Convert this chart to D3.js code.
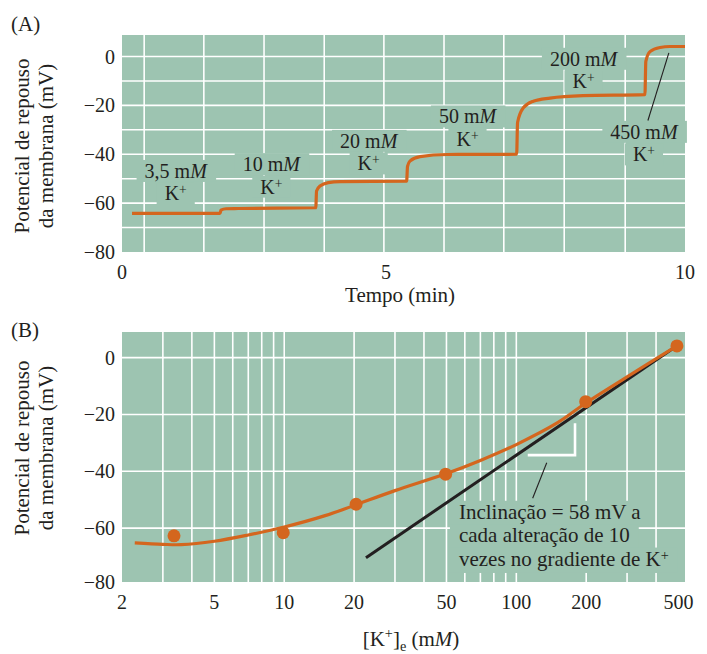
<!DOCTYPE html>
<html><head><meta charset="utf-8">
<script src="https://cdn.jsdelivr.net/npm/d3@7"></script>
<style>
body{margin:0;background:#fff}
text{font-family:"Liberation Serif","Times New Roman",serif;fill:#231f20}
</style>
</head><body>
<svg id="c" width="707" height="654"></svg>
<script>
// ---------- Panel A data: membrane potential trace over time ----------
const traceTime = [0.19,1.855,1.875,1.97,2.2,3.67,3.685,3.75,3.907,4.13,5.345,5.36,5.40,5.57,6.02,7.185,7.2,7.296,7.463,7.742,8.294,9.33,9.345,9.415,9.582,9.749,10];
const traceMv   = [-64.2,-64.2,-62.9,-62.3,-62.2,-61.9,-55,-53,-51.6,-51.2,-51.0,-45,-42.8,-41.0,-40.1,-40.0,-27,-21,-18.3,-17,-16,-15.6,-2,2,3.7,4.1,4.1];
const stepConc  = ["3,5","10","20","50","200","450"];
const timeTicks = [0,5,10];
const mvTicksA  = [0,-20,-40,-60,-80];
const gridMvA   = [0,-10,-20,-30,-40,-50,-60,-70];
const gridTimeA = [0.42,1.55,2.69,3.83,4.96,5.97,6.97,7.98,9.0];

// ---------- Panel B data: resting potential vs external K+ ----------
const kPoints   = [3.35,9.9,20.4,49.6,199,492];
const mvPoints  = [-62.7,-61.6,-51.6,-41.0,-15.5,4.1];
const fitK      = [2.27,3,3.6,5,7,10,15,20,30,50,70,100,150,200,300,490];
const fitMv     = [-65.2,-65.7,-65.8,-64.6,-62.4,-59.6,-55.6,-52.0,-46.8,-40.8,-36.2,-30.6,-23.0,-15.9,-6.8,4.0];
const nernstK   = [22.5,474.6];
const nernstMv  = [-70.4,3.3];
const kTicks    = [2,5,10,20,50,100,200,500];
const mvTicksB  = [0,-20,-40,-60,-80];
const gridMvB   = [0,-20,-40,-60];
const gridKB    = [3,4,5,6,7,8,9,10,20,30,40,50,60,70,80,90,100,200,300,400];

// ---------- styles / layout ----------
const BG = "#9dc4b1", ORANGE = "#d4661e", GRID = "#ffffff", INK = "#231f20";
const FS = 21, TFS = 20, LFS = 20;
const A = {l:122, r:685, t:35, b:252};
const B = {l:122, r:685, t:332, b:582};

const svg = d3.select("#c");

// multi-line rich text in ONE <text>; lines = [[ [str, kind], ... ], ...]
function richLines(g, x, y, lines, anchor, lh, size, supShift){
  size = size || FS; supShift = supShift || 8;
  const t = g.append("text").attr("x", x).attr("y", y)
    .attr("text-anchor", anchor || "start").attr("font-size", size);
  let cur = 0;
  const out = [];
  lines.forEach((parts, li) => {
    const base = li * lh;
    const nodes = [];
    parts.forEach(([s, k], pi) => {
      const sp = t.append("tspan").text(s);
      let target = base;
      if (k === "sup") { target = base - supShift; sp.attr("font-size", size*0.68); }
      if (k === "sub") { target = base + 5; sp.attr("font-size", size*0.68); }
      if (k === "i") sp.attr("font-style", "italic");
      if (pi === 0 && li > 0) sp.attr("x", x);
      if (target !== cur) { sp.attr("dy", target - cur); cur = target; }
      nodes.push(sp.node());
    });
    out.push(nodes);
  });
  return {text: t, lines: out};
}
function lineBox(nodes){
  let x0=Infinity,y0=Infinity,x1=-Infinity,y1=-Infinity;
  nodes.forEach(n => { const b = n.getBBox();
    x0=Math.min(x0,b.x); y0=Math.min(y0,b.y); x1=Math.max(x1,b.x+b.width); y1=Math.max(y1,b.y+b.height); });
  return {x:x0,y:y0,w:x1-x0,h:y1-y0};
}
const minus = v => v < 0 ? "\u2212" + Math.abs(v) : String(v);

// =================== PANEL A ===================
const xA = d3.scaleLinear().domain([0,5,10]).range([A.l, 386, A.r]);
const yA = d3.scaleLinear().domain([-80, 8.8]).range([A.b, A.t]);
const gA = svg.append("g");
gA.append("rect").attr("x",A.l).attr("y",A.t).attr("width",A.r-A.l).attr("height",A.b-A.t).attr("fill",BG);
gA.selectAll(".hg").data(gridMvA).join("line")
  .attr("x1",A.l).attr("x2",A.r).attr("y1",d=>yA(d)).attr("y2",d=>yA(d))
  .attr("stroke",GRID).attr("stroke-width",1.6);
gA.selectAll(".vg").data(gridTimeA).join("line")
  .attr("x1",d=>xA(d)).attr("x2",d=>xA(d)).attr("y1",A.t).attr("y2",A.b)
  .attr("stroke",GRID).attr("stroke-width",1.6);

// step labels (anchor: centre time, baseline mV of first line)
const labelAnchorA = [[1.017,-49.7],[2.828,-46.9],[4.672,-37.4],[6.363,-27.4],[8.303,-3.8],[9.314,-33.7]];
const labBg = gA.append("g"), labTx = gA.append("g");
stepConc.forEach((c,i) => {
  const [t,v] = labelAnchorA[i];
  const r = richLines(labTx, xA(t), yA(v), [[[c+" m","n"],["M","i"]], [["K","n"],["+","sup"]]], "middle", 22.5, LFS, 6);
  r.lines.forEach(nodes => {
    const b = lineBox(nodes);
    labBg.append("rect").attr("x",b.x-8).attr("y",b.y).attr("width",b.w+16).attr("height",b.h).attr("fill",BG);
  });
});
// leader for 450 mM
gA.append("line").attr("x1",xA(9.73)).attr("y1",yA(1.5)).attr("x2",xA(9.38)).attr("y2",yA(-26.2))
  .attr("stroke",INK).attr("stroke-width",1.1);

const lineA = d3.line().x((d,i)=>xA(traceTime[i])).y(d=>yA(d)).curve(d3.curveMonotoneX);
gA.append("path").attr("d", lineA(traceMv)).attr("fill","none")
  .attr("stroke",ORANGE).attr("stroke-width",3.2).attr("stroke-linejoin","round");

// axes text
gA.selectAll(".yt").data(mvTicksA).join("text")
  .attr("x",A.l-7).attr("y",d=>yA(d)+7).attr("text-anchor","end").attr("font-size",TFS).text(minus);
gA.selectAll(".xt").data(timeTicks).join("text")
  .attr("x",d=>xA(d)).attr("y",A.b+27).attr("text-anchor","middle").attr("font-size",TFS).text(d=>d);
gA.append("text").attr("x",400).attr("y",302).attr("text-anchor","middle").attr("font-size",FS).text("Tempo (min)");
gA.append("text").attr("transform","translate(29,146) rotate(-90)").attr("text-anchor","middle").attr("font-size",FS)
  .call(t => { t.append("tspan").attr("x",0).text("Potencial de repouso");
               t.append("tspan").attr("x",0).attr("dy",23.5).text("da membrana (mV)"); });
gA.append("text").attr("x",11).attr("y",31).attr("font-size",FS).text("(A)");

// =================== PANEL B ===================
const xB = d3.scaleLog().domain([2, 533]).range([B.l, B.r]);
const yB = d3.scaleLinear().domain([-80, 9]).range([585, B.t]);
const gB = svg.append("g");
gB.append("rect").attr("x",B.l).attr("y",B.t).attr("width",B.r-B.l).attr("height",B.b-B.t).attr("fill",BG);
gB.selectAll(".hg").data(gridMvB).join("line")
  .attr("x1",B.l).attr("x2",B.r).attr("y1",d=>yB(d)).attr("y2",d=>yB(d))
  .attr("stroke",GRID).attr("stroke-width",1.6);
gB.selectAll(".vg").data(gridKB).join("line")
  .attr("x1",d=>xB(d)).attr("x2",d=>xB(d)).attr("y1",B.t).attr("y2",B.b)
  .attr("stroke",GRID).attr("stroke-width",1.6);

// annotation text with background
const annBg = gB.append("g"), annTx = gB.append("g");
const annK = 56.6, annMv = -56.7, annLH = 23.4;
const ann = richLines(annTx, xB(annK), yB(annMv), [
  [["Inclinação = 58 mV a","n"]],
  [["cada alteração de 10","n"]],
  [["vezes no gradiente de K","n"],["+","sup"]]
], "start", annLH, FS, 5.5);
ann.lines.forEach((nodes, i) => {
  const b = lineBox(nodes);
  annBg.append("rect").attr("x", b.x-9).attr("y", yB(annMv)+i*annLH-18)
    .attr("width", b.w+18).attr("height", annLH+2).attr("fill", BG);
});
// white slope triangle
gB.append("path")
  .attr("d", d3.line()([[xB(112),yB(-34.3)],[xB(179),yB(-34.3)],[xB(179),yB(-23.1)]]))
  .attr("fill","none").attr("stroke",GRID).attr("stroke-width",2.6);
// leader
gB.append("line").attr("x1",xB(135.2)).attr("y1",yB(-37)).attr("x2",xB(117.6)).attr("y2",yB(-49.5))
  .attr("stroke",INK).attr("stroke-width",1.1);

// Nernst line
gB.append("path").attr("d", d3.line().x((d,i)=>xB(nernstK[i])).y(d=>yB(d))(nernstMv))
  .attr("stroke",INK).attr("stroke-width",3).attr("fill","none");
// fit curve
gB.append("path").attr("d", d3.line().x((d,i)=>xB(fitK[i])).y(d=>yB(d)).curve(d3.curveCatmullRom.alpha(0.5))(fitMv))
  .attr("stroke",ORANGE).attr("stroke-width",3.2).attr("fill","none");
// points
gB.selectAll(".pt").data(mvPoints).join("circle")
  .attr("cx",(d,i)=>xB(kPoints[i])).attr("cy",d=>yB(d)).attr("r",6.5).attr("fill",ORANGE);

// axes text
gB.selectAll(".yt").data(mvTicksB).join("text")
  .attr("x",B.l-7).attr("y",d=>Math.min(yB(d),B.b)+7).attr("text-anchor","end").attr("font-size",TFS).text(minus);
gB.selectAll(".xt").data(kTicks).join("text")
  .attr("x",d=>xB(d)).attr("y",B.b+27).attr("text-anchor","middle").attr("font-size",TFS).text(d=>d);
richLines(gB, 411, 646, [[["[K","n"],["+","sup"],["]","n"],["e","sub"],[" (m","n"],["M","i"],[")","n"]]], "middle", 0);
gB.append("text").attr("transform","translate(29,448) rotate(-90)").attr("text-anchor","middle").attr("font-size",FS)
  .call(t => { t.append("tspan").attr("x",0).text("Potencial de repouso");
               t.append("tspan").attr("x",0).attr("dy",23.5).text("da membrana (mV)"); });
gB.append("text").attr("x",11).attr("y",337).attr("font-size",FS).text("(B)");
</script>
</body></html>
